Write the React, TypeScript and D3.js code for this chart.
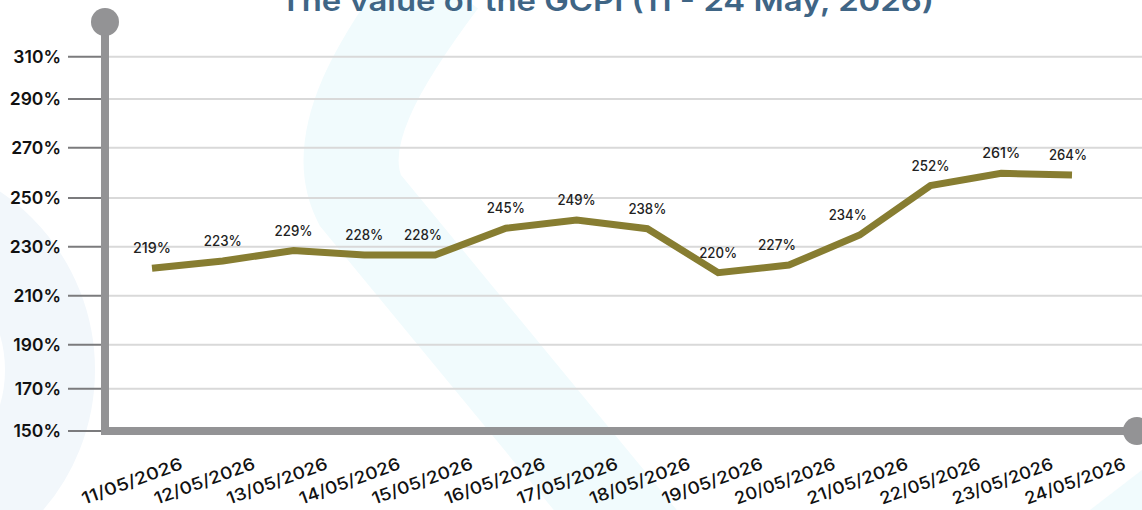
import React from "react";
import * as d3 from "d3";

const dates = [
  "11/05/2026", "12/05/2026", "13/05/2026", "14/05/2026", "15/05/2026",
  "16/05/2026", "17/05/2026", "18/05/2026", "19/05/2026", "20/05/2026",
  "21/05/2026", "22/05/2026", "23/05/2026", "24/05/2026",
];
// values as drawn by the line (read from its position)
const plotted = [221.2, 224.2, 228.4, 226.6, 226.6, 237.6, 241.0, 237.4, 219.4, 222.5, 234.8, 254.9, 259.8, 259.1];
// values printed above the line
const labels = [219, 223, 229, 228, 228, 245, 249, 238, 220, 227, 234, 252, 261, 264];
const yTicks = [150, 170, 190, 210, 230, 250, 270, 290, 310];
const title = "The value of the GCPI (11 - 24 May, 2026)";

const W = 1142;
const H = 510;
const FONT = "Inter, 'Noto Sans', sans-serif";

export default function App() {
  const x = d3.scalePoint<string>().domain(dates).range([152, 1072]);
  const xLab = d3.scalePoint<string>().domain(dates).range([132, 1075]);
  const y = d3
    .scaleLinear()
    .domain(yTicks)
    .range([431, 388.7, 344.7, 295.7, 246.7, 198, 147.7, 99, 56.7]);

  const line = d3
    .line<number>()
    .x((_, i) => x(dates[i])!)
    .y((d) => y(d));

  const axisX = 105;
  const axisY = y(150);

  // shift a label left when the line rises steeply after the point
  const labelDx = (i: number) => {
    const next = plotted[i + 1];
    if (next === undefined) return -4;
    return next - plotted[i] > 8 ? -12 : 0;
  };

  return (
    <svg
      width={W}
      height={H}
      style={{ position: "fixed", left: 0, top: 0, background: "#fff" }}
    >
      {/* background decoration */}
      <path
        d="M 440 -20 C 380 60, 330 140, 360 200 L 640 540"
        fill="none"
        stroke="#f1fbfd"
        strokeWidth={95}
      />
      <circle cx={-120} cy={370} r={170} fill="none" stroke="#f2f7fb" strokeWidth={90} />
      <path d="M 1090 510 L 1142 470 L 1142 510 Z" fill="#f1fbfd" />

      {/* title */}
      <text
        x={607}
        y={11}
        textAnchor="middle"
        fontFamily={FONT}
        fontWeight={600}
        fontSize={29}
        fill="#3f6585"
        textLength={654}
        lengthAdjust="spacingAndGlyphs"
      >
        {title}
      </text>

      {/* gridlines */}
      {yTicks.slice(1).map((t) => (
        <line key={"g" + t} x1={axisX + 4} x2={W} y1={y(t)} y2={y(t)} stroke="#d9d9d9" strokeWidth={2} />
      ))}
      {/* tick marks */}
      {yTicks.map((t) => (
        <line key={"t" + t} x1={68} x2={axisX} y1={y(t)} y2={y(t)} stroke="#7b7b7d" strokeWidth={2} />
      ))}
      {/* y labels */}
      {yTicks.map((t) => (
        <text
          key={"l" + t}
          x={61}
          y={y(t)}
          dy="0.36em"
          textAnchor="end"
          fontFamily={FONT}
          fontWeight={600}
          fontSize={17.5}
          fill="#111"
        >
          {t}%
        </text>
      ))}

      {/* axes */}
      <line x1={axisX} x2={axisX} y1={22} y2={axisY + 4} stroke="#939395" strokeWidth={8} />
      <line x1={axisX - 4} x2={1137} y1={axisY} y2={axisY} stroke="#939395" strokeWidth={8} />
      <circle cx={axisX} cy={22} r={14} fill="#939395" />
      <circle cx={1137} cy={axisY} r={14} fill="#939395" />

      {/* line */}
      <path d={line(plotted) || ""} fill="none" stroke="#877d31" strokeWidth={7} strokeLinejoin="miter" />

      {/* data labels */}
      {labels.map((v, i) => (
        <text
          key={"d" + i}
          x={x(dates[i])! + labelDx(i)}
          y={y(plotted[i]) - 15}
          textAnchor="middle"
          fontFamily={FONT}
          fontWeight={500}
          fontSize={14.5}
          fill="#222"
          textLength={38}
          lengthAdjust="spacingAndGlyphs"
        >
          {v}%
        </text>
      ))}

      {/* x labels */}
      {dates.map((d) => (
        <text
          key={"x" + d}
          transform={`translate(${xLab(d)},481) rotate(-20)`}
          textAnchor="middle"
          dy="0.35em"
          fontFamily={FONT}
          fontWeight={500}
          fontSize={17}
          fill="#111"
          textLength={106}
          lengthAdjust="spacingAndGlyphs"
        >
          {d}
        </text>
      ))}
    </svg>
  );
}
